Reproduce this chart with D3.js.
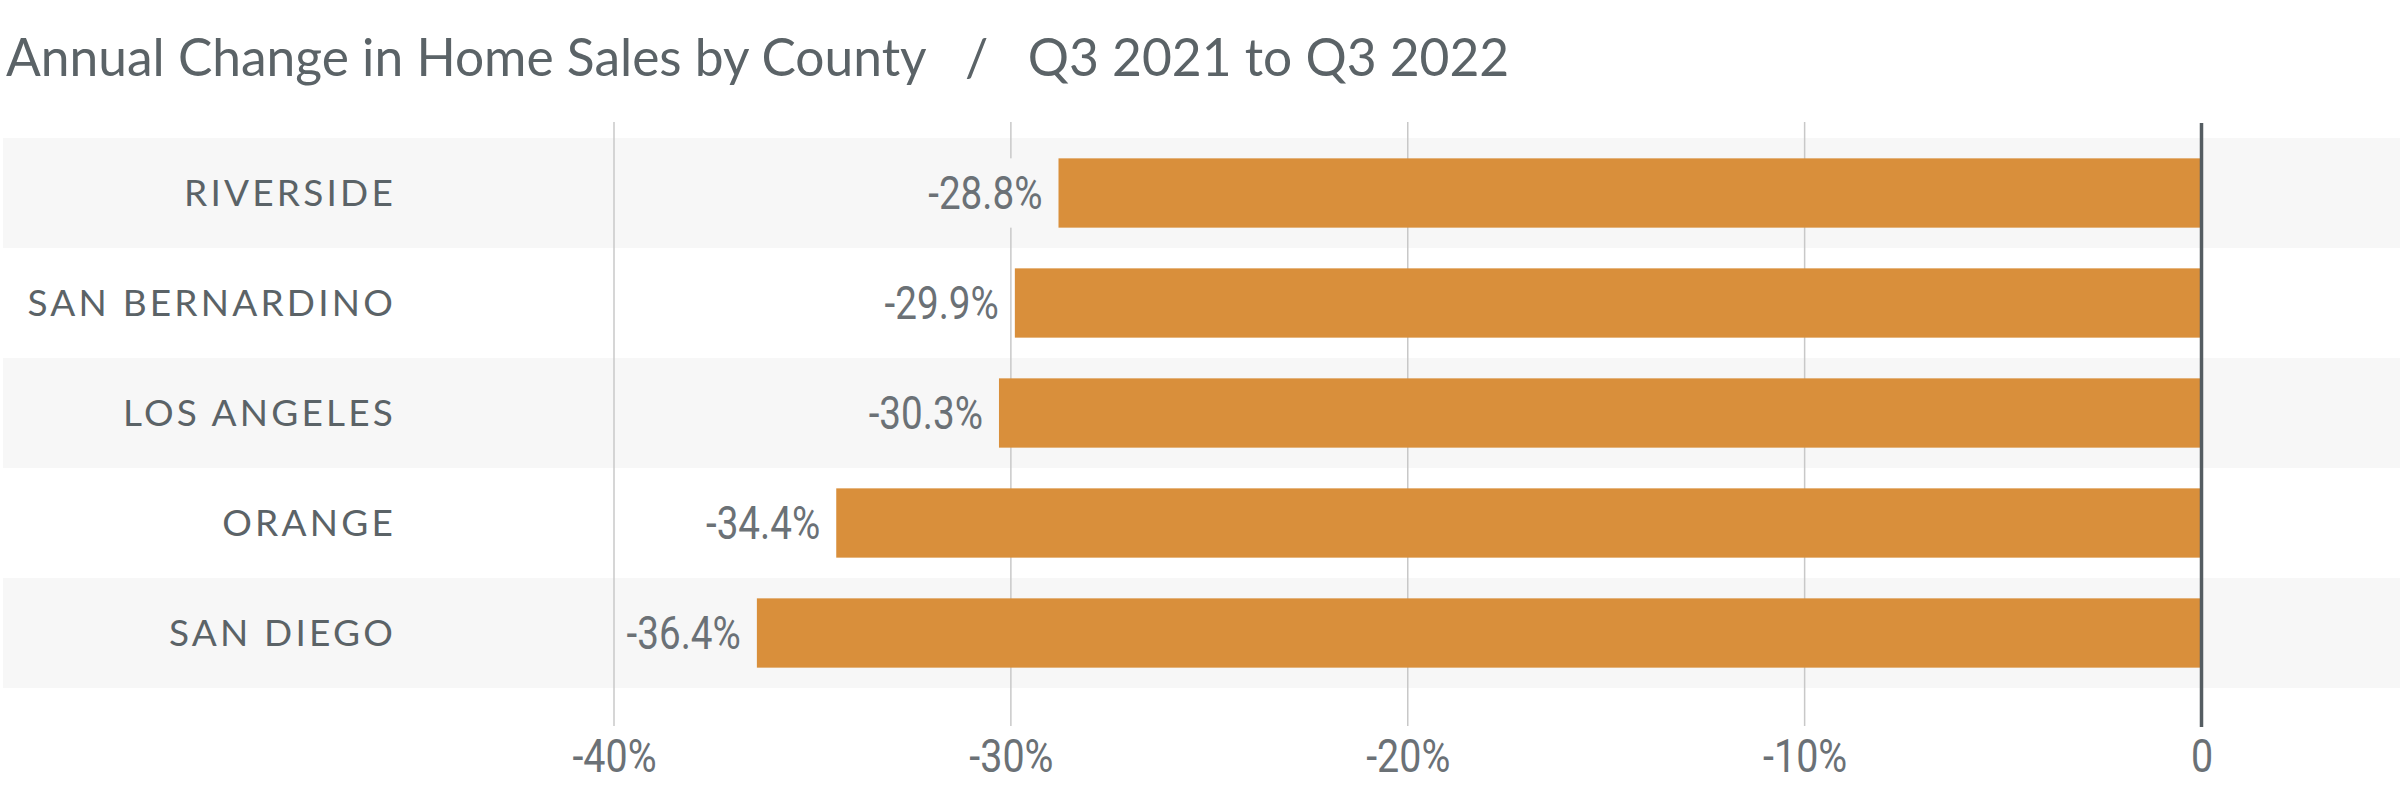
<!DOCTYPE html>
<html>
<head>
<meta charset="utf-8">
<script src="https://cdn.jsdelivr.net/npm/d3@7"></script>
<style>
  body { margin: 0; background: #fff; }
  svg { display: block; }
  .title { font-family: Lato, "Open Sans", sans-serif; font-size: 51.5px; fill: #5b6367; white-space: pre; }
  .cat { font-family: Lato, "Open Sans", sans-serif; font-size: 37px; fill: #5b6367; letter-spacing: 3.2px; }
  .val, .tick text { font-family: Roboto, sans-serif; fill: #6b7176; }
  .val { font-size: 46px; }
  .tick text { font-size: 47px; }
</style>
</head>
<body>
<div id="box"></div>
<script>
const counties = ['RIVERSIDE', 'SAN BERNARDINO', 'LOS ANGELES', 'ORANGE', 'SAN DIEGO'];
const changes = [-28.8, -29.9, -30.3, -34.4, -36.4];
const ticks = [-40, -30, -20, -10, 0];
const tickLabels = ['-40%', '-30%', '-20%', '-10%', '0'];

const W = 2400, H = 797;
const narrow = 0.84; // estrechar la fuente, no hay condensada instalada

const svg = d3.select('#box').append('svg')
    .attr('width', W)
    .attr('height', H);

svg.append('text')
    .attr('class', 'title')
    .attr('x', 6)
    .attr('y', 76)
    .text('Annual Change in Home Sales by County   /   Q3 2021 to Q3 2022');

const x = d3.scaleLinear()
    .domain([-40, 0])
    .range([614, 2201.5]);

const y = d3.scaleBand()
    .domain(counties)
    .range([138, 688])
    .padding(0);

const rowBg = (d, i) => i % 2 === 0 ? '#f7f7f7' : '#ffffff';

// fondo de filas
svg.append('g').selectAll('rect')
    .data(counties)
    .join('rect')
    .attr('x', 3)
    .attr('y', d => y(d))
    .attr('width', W - 3)
    .attr('height', y.bandwidth())
    .attr('fill', rowBg);

// rejilla vertical
svg.append('g').selectAll('line')
    .data(ticks.filter(t => t !== 0))
    .join('line')
    .attr('x1', d => x(d))
    .attr('x2', d => x(d))
    .attr('y1', 122)
    .attr('y2', 726)
    .attr('stroke', '#c8c8c8')
    .attr('stroke-width', 1.5);

const barH = y.bandwidth() * 0.63;
const barOff = (y.bandwidth() - barH) / 2;

const rows = svg.append('g').selectAll('g')
    .data(counties)
    .join('g');

rows.append('rect')
    .attr('x', (d, i) => x(changes[i]))
    .attr('y', d => y(d) + barOff)
    .attr('width', (d, i) => x(0) - x(changes[i]))
    .attr('height', barH)
    .attr('fill', '#d98f3b');

// etiquetas de valor con fondo para tapar la rejilla
const labels = rows.append('text')
    .attr('class', 'val')
    .attr('text-anchor', 'end')
    .attr('transform', (d, i) => `translate(${x(changes[i]) - 16},${y(d) + y.bandwidth() / 2 + 16}) scale(${narrow},1)`)
    .text((d, i) => changes[i].toFixed(1) + '%');

labels.each(function(d, i) {
    const bb = this.getBBox();
    const w = bb.width * narrow;
    d3.select(this.parentNode).insert('rect', 'text')
        .attr('x', x(changes[i]) - 16 - w - 4)
        .attr('y', y(d) + barOff)
        .attr('width', w + 8)
        .attr('height', barH)
        .attr('fill', rowBg(d, i));
});

svg.append('g').selectAll('text')
    .data(counties)
    .join('text')
    .attr('class', 'cat')
    .attr('x', 396)
    .attr('y', d => y(d) + y.bandwidth() / 2 + 13)
    .attr('text-anchor', 'end')
    .text(d => d);

// linea del cero
svg.append('line')
    .attr('x1', x(0))
    .attr('x2', x(0))
    .attr('y1', 123)
    .attr('y2', 727)
    .attr('stroke', '#555d62')
    .attr('stroke-width', 3.5);

const xAxis = d3.axisBottom(x)
    .tickValues(ticks)
    .tickFormat((d, i) => tickLabels[i])
    .tickSize(0)
    .tickPadding(0);

svg.append('g')
    .attr('transform', 'translate(0,738)')
    .call(xAxis)
    .call(g => g.select('.domain').remove())
    .call(g => g.selectAll('text').attr('dy', '0.72em').attr('transform', `scale(${narrow},1)`));
</script>
</body>
</html>
